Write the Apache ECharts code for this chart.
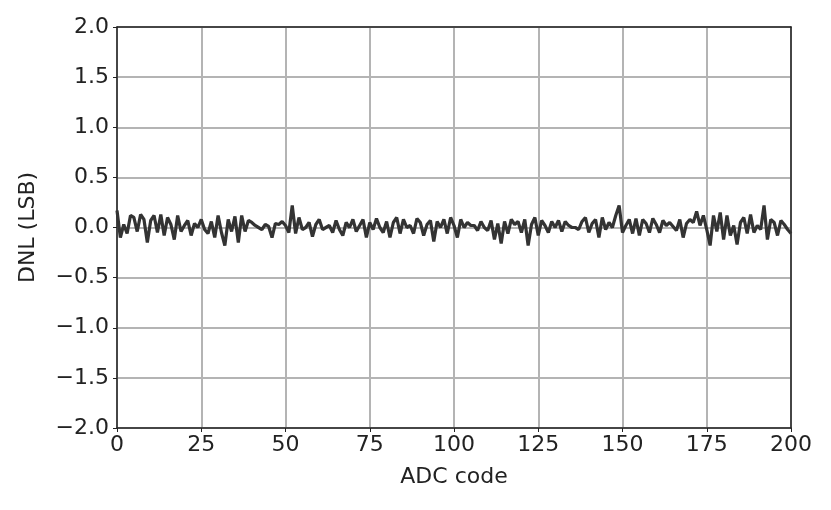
<!DOCTYPE html>
<html><head><meta charset="utf-8">
<script src="https://cdn.jsdelivr.net/npm/echarts@6/dist/echarts.min.js"></script>
<style>html,body{margin:0;padding:0;background:#fff}#c{width:831px;height:510px}</style>
</head><body><div id="c"></div>
<script>
const xTicks = [0, 25, 50, 75, 100, 125, 150, 175, 200];
const yTicks = [-2.0, -1.5, -1.0, -0.5, 0.0, 0.5, 1.0, 1.5, 2.0];
const codes = Array.from({length: 201}, (_, i) => i);
const dnl = [
 0.17, -0.1, 0.03, -0.06, 0.12, 0.1, -0.04, 0.13, 0.08, -0.15,
 0.07, 0.12, -0.05, 0.13, -0.08, 0.1, 0.03, -0.12, 0.12, -0.04,
 0.02, 0.07, -0.08, 0.04, 0.0, 0.08, -0.02, -0.06, 0.06, -0.1,
 0.12, -0.05, -0.18, 0.08, -0.04, 0.11, -0.15, 0.12, -0.04, 0.07,
 0.05, 0.02, 0.0, -0.02, 0.03, 0.01, -0.1, 0.04, 0.03, 0.06,
 0.02, -0.05, 0.22, -0.06, 0.1, -0.02, 0.0, 0.05, -0.09, 0.03,
 0.08, -0.02, 0.0, 0.02, -0.05, 0.07, -0.02, -0.08, 0.05, 0.0,
 0.08, -0.04, 0.02, 0.08, -0.1, 0.05, -0.02, 0.09, 0.0, -0.05,
 0.06, -0.1, 0.05, 0.1, -0.06, 0.08, 0.0, 0.02, -0.06, 0.09,
 0.05, -0.08, 0.03, 0.07, -0.14, 0.06, 0.0, 0.08, -0.06, 0.1,
 0.02, -0.1, 0.08, 0.0, 0.05, 0.02, 0.02, -0.03, 0.06, 0.0,
 -0.03, 0.07, -0.12, 0.04, -0.16, 0.06, -0.06, 0.08, 0.03, 0.06,
 -0.05, 0.08, -0.18, 0.03, 0.1, -0.08, 0.07, 0.02, -0.05, 0.06,
 0.0, 0.07, -0.04, 0.06, 0.02, 0.0, 0.0, -0.02, 0.06, 0.1,
 -0.05, 0.04, 0.08, -0.1, 0.1, -0.02, 0.05, 0.0, 0.12, 0.22,
 -0.05, 0.02, 0.08, -0.06, 0.09, -0.08, 0.08, 0.04, -0.05, 0.09,
 0.03, -0.05, 0.07, 0.02, 0.05, 0.01, -0.03, 0.08, -0.1, 0.04,
 0.08, 0.05, 0.16, 0.02, 0.12, -0.02, -0.18, 0.12, -0.04, 0.15,
 -0.12, 0.12, -0.08, 0.02, -0.17, 0.05, 0.1, -0.06, 0.13, -0.05,
 0.02, -0.02, 0.22, -0.12, 0.08, 0.05, -0.08, 0.07, 0.03, -0.02, -0.06
];
const font = 'DejaVu Sans, Verdana, sans-serif';
const frame = {lineStyle: {color: '#222', width: 1.5}};
const chart = echarts.init(document.getElementById('c'));
chart.setOption({
  animation: false,
  grid: {left: 117, right: 40, top: 27, bottom: 82},
  xAxis: [{
    type: 'value', min: xTicks[0], max: xTicks[xTicks.length-1], interval: 25,
    name: 'ADC code', nameLocation: 'middle', nameGap: 38,
    nameTextStyle: {fontFamily: font, fontSize: 22, color: '#222'},
    axisLine: {onZero: false, lineStyle: {color: '#222', width: 1.5}},
    axisTick: {show: true, length: 4, lineStyle: {color: '#222'}},
    axisLabel: {fontFamily: font, fontSize: 22, color: '#222', margin: 6},
    splitLine: {show: true, lineStyle: {color: '#b4b4b4', width: 2}},
    z: 3
  }, {
    type: 'value', position: 'top', min: xTicks[0], max: xTicks[xTicks.length-1],
    axisLine: {show: true, onZero: false, lineStyle: frame.lineStyle},
    axisTick: {show: false}, axisLabel: {show: false}, splitLine: {show: false}, z: 3
  }],
  yAxis: [{
    type: 'value', min: yTicks[0], max: yTicks[yTicks.length-1], interval: 0.5,
    name: 'DNL (LSB)', nameLocation: 'middle', nameGap: 78,
    nameTextStyle: {fontFamily: font, fontSize: 22, color: '#222'},
    axisLine: {show: true, onZero: false, lineStyle: {color: '#222', width: 1.5}},
    axisTick: {show: true, length: 4, lineStyle: {color: '#222'}},
    axisLabel: {fontFamily: font, fontSize: 22, color: '#222', margin: 8,
      formatter: v => (v < 0 ? '\u2212' + Math.abs(v).toFixed(1) : v.toFixed(1))},
    splitLine: {show: true, lineStyle: {color: '#b4b4b4', width: 2}},
    z: 3
  }, {
    type: 'value', position: 'right', min: yTicks[0], max: yTicks[yTicks.length-1],
    axisLine: {show: true, onZero: false, lineStyle: frame.lineStyle},
    axisTick: {show: false}, axisLabel: {show: false}, splitLine: {show: false}, z: 3
  }],
  series: [{
    type: 'line', data: codes.map((c, i) => [c, dnl[i]]),
    showSymbol: false, lineStyle: {color: '#333', width: 3.2}, z: 5
  }]
});
</script></body></html>
